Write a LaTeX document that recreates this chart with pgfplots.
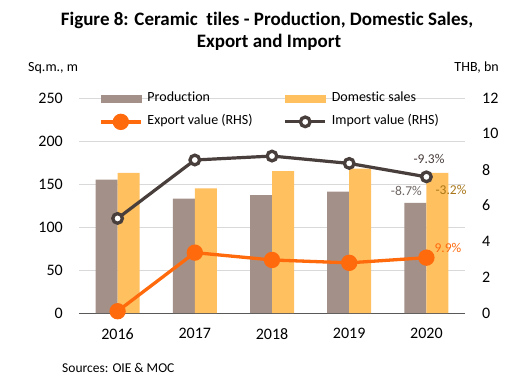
\documentclass[border=0pt]{standalone}
\usepackage{pgfplots}
\pgfplotsset{compat=1.18}
\usepackage{fontspec}
\setmainfont{Carlito}[Ligatures=NoCommon]
\definecolor{prodc}{HTML}{A39189}
\definecolor{domc}{HTML}{FFC060}
\definecolor{expc}{HTML}{FF6A0D}
\definecolor{impc}{HTML}{483E3B}
\definecolor{gridc}{HTML}{D9D9D9}
\definecolor{axc}{HTML}{595959}
\definecolor{lab87}{HTML}{6E6663}
\definecolor{lab32}{HTML}{A87618}
\begin{document}
\begin{tikzpicture}[x=1pt,y=1pt]
\useasboundingbox (0,0) rectangle (532,384);
\node[anchor=base, inner sep=0, font=\bfseries\fontsize{19}{22}\selectfont] at (267,358.4) {Figure 8: Ceramic\ \ tiles - Production, Domestic Sales,};
\node[anchor=base, inner sep=0, font=\bfseries\fontsize{19}{22}\selectfont] at (269,336.3) {Export and Import};
\node[anchor=base west, inner sep=0, font=\fontsize{14}{16}\selectfont] at (28,313) {Sq.m., m};
\node[anchor=base east, inner sep=0, font=\fontsize{14}{16}\selectfont] at (499,313) {THB, bn};
\node[anchor=base west, inner sep=0, font=\fontsize{13.5}{15}\selectfont] at (62,11.3) {Sources: OIE \& MOC};

\begin{axis}[
  at={(79pt,71pt)}, anchor=south west,
  scale only axis, width=386pt, height=215pt,
  xmin=-0.5, xmax=4.5, ymin=0, ymax=250,
  xtick={0,1,2,3,4}, xticklabels={2016,2017,2018,2019,2020},
  ytick={0,50,100,150,200,250},
  ymajorgrids, grid style={gridc, line width=0.8pt},
  axis x line*=bottom, axis y line*=left,
  y axis line style={draw=none},
  x axis line style={axc, line width=0.9pt},
  major tick length=0pt,
  /pgf/number format/assume math mode=true,
  ticklabel style={font=\fontsize{16}{18}\selectfont, inner sep=0pt},
  yticklabel style={anchor=east, xshift=-16pt},
  xticklabel style={anchor=north, yshift=-15pt},
  ybar, bar width=22pt,
]
\addplot[fill=prodc, draw=none, bar shift=-11pt] coordinates {(0,155) (1,133) (2,137) (3,141) (4,128)};
\addplot[fill=domc, draw=none, bar shift=11pt] coordinates {(0,163) (1,145) (2,165) (3,168) (4,163)};
\node[anchor=base, text=lab87, font=\fontsize{13.5}{15}\selectfont, inner sep=0] at (axis cs:4,128) [xshift=-20pt, yshift=7pt] {-8.7\%};
\node[anchor=base, text=lab32, font=\fontsize{13.5}{15}\selectfont, inner sep=0] at (axis cs:4,163) [xshift=24.6pt, yshift=-22pt] {-3.2\%};
\end{axis}

\begin{axis}[
  at={(79pt,71pt)}, anchor=south west,
  scale only axis, width=386pt, height=215pt,
  xmin=-0.5, xmax=4.5, ymin=0, ymax=12,
  axis x line=none, axis y line*=right,
  y axis line style={draw=none},
  ytick={0,2,4,6,8,10,12},
  major tick length=0pt,
  /pgf/number format/assume math mode=true,
  ticklabel style={font=\fontsize{16}{18}\selectfont, inner sep=0pt},
  yticklabel style={anchor=west, xshift=17pt},
  legend columns=2,
  legend style={draw=none, fill=none, inner sep=0pt,
    at={(axis description cs:0.0518,1.0279)}, anchor=north west,
    font=\fontsize{14}{16}\selectfont,
    nodes={inner sep=0pt, text height=9pt, text depth=3pt, anchor=west},
    row sep=9.5pt,
    /tikz/every odd column/.append style={column sep=5pt},
    /tikz/every even column/.append style={column sep=31pt}},
]
\addlegendimage{legend image code/.code={\fill[prodc] (0pt,-3.5pt) rectangle (40pt,3.5pt);}}
\addlegendentry{Production}
\addlegendimage{legend image code/.code={\fill[domc] (0pt,-3.5pt) rectangle (40pt,3.5pt);}}
\addlegendentry{Domestic sales}
\addplot[expc, line width=3.3pt, mark=*, mark size=6.5pt, mark options={fill=expc, draw=none},
  legend image code/.code={\draw[expc, line width=3.3pt] (0pt,0pt) -- (40pt,0pt); \fill[expc] (20pt,0pt) circle (6.5pt);}]
  coordinates {(0,0.1) (1,3.37) (2,2.96) (3,2.8) (4,3.09)};
\addlegendentry{Export value (RHS)}
\addplot[impc, line width=3.2pt, mark=*, mark size=4.8pt, mark options={fill=white, draw=impc, line width=3.3pt},
  legend image code/.code={\draw[impc, line width=3.2pt] (0pt,0pt) -- (40pt,0pt); \draw[impc, line width=3.3pt, fill=white] (20pt,0pt) circle (4.8pt);}]
  coordinates {(0,5.28) (1,8.54) (2,8.76) (3,8.35) (4,7.6)};
\addlegendentry{Import value (RHS)}
\node[anchor=base, text=impc, font=\fontsize{13.5}{15}\selectfont, inner sep=0] at (axis cs:4,7.6) [xshift=2.6pt, yshift=13.3pt] {-9.3\%};
\node[anchor=base, text=expc, font=\fontsize{13.5}{15}\selectfont, inner sep=0] at (axis cs:4,3.09) [xshift=21.6pt, yshift=5pt] {9.9\%};
\end{axis}
\end{tikzpicture}
\end{document}
